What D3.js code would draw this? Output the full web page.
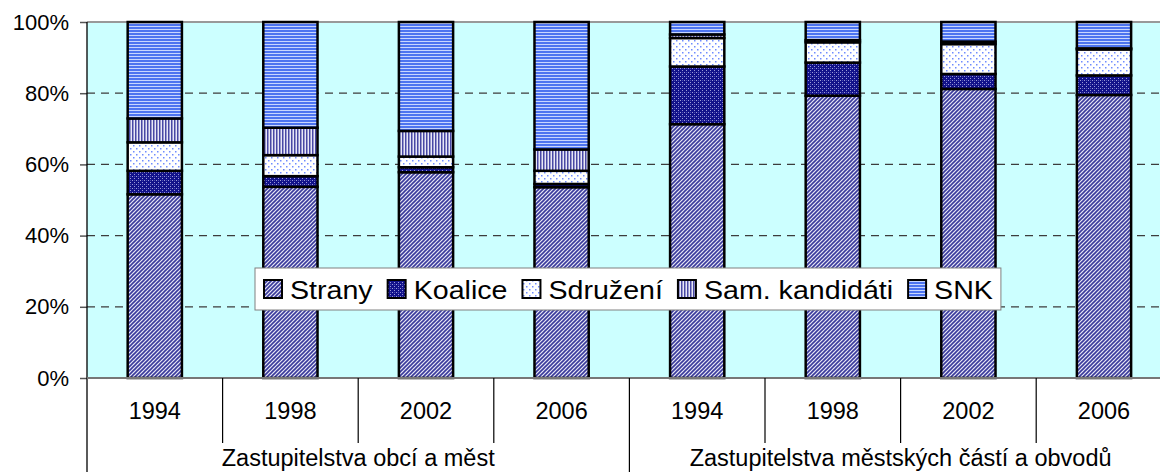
<!DOCTYPE html>
<html>
<head>
<meta charset="utf-8">
<script src="https://cdn.jsdelivr.net/npm/d3@7"></script>
<style>
  body { margin: 0; background: #fff; }
  svg { display: block; font-family: "Liberation Sans", Arial, sans-serif; }
</style>
</head>
<body>
<div id="chart"></div>
<script>
// data (percent of mandates)
const groups = ["Zastupitelstva obcí a měst", "Zastupitelstva městských částí a obvodů"];
const years = ["1994", "1998", "2002", "2006"];
const series = ["Strany", "Koalice", "Sdružení", "Sam. kandidáti", "SNK"];
const strany = [51.6, 53.7, 57.8, 53.6, 71.3, 79.3, 81.2, 79.5];
const koalice = [6.6, 3.0, 1.4, 0.9, 16.2, 9.3, 4.2, 5.5];
const sdruzeni = [8.0, 5.9, 3.0, 3.7, 8.0, 5.7, 8.4, 7.3];
const samKandidati = [6.7, 7.7, 7.2, 6.0, 1.0, 0.6, 0.7, 0.3];
const snk = [27.1, 29.7, 30.6, 35.8, 3.5, 5.1, 5.5, 7.4];
const yTicks = [0, 0.2, 0.4, 0.6, 0.8, 1];

const W = 1160, H = 472;
const plotLeft = 87, plotTop = 22, plotBottom = 378;
const step = 135.6;
const plotRight = plotLeft + step * groups.length * years.length; // plot runs past the picture edge

const cats = [];
groups.forEach((g, gi) => years.forEach(yr => cats.push({ key: gi + "-" + yr, year: yr, group: gi })));

const rows = cats.map((c, i) => ({
  key: c.key,
  "Strany": strany[i], "Koalice": koalice[i], "Sdružení": sdruzeni[i],
  "Sam. kandidáti": samKandidati[i], "SNK": snk[i]
}));

const stacked = d3.stack().keys(series).offset(d3.stackOffsetExpand)(rows);

const x = d3.scaleBand().domain(cats.map(c => c.key)).range([plotLeft, plotRight])
  .paddingInner(0.6).paddingOuter(0.3);
const y = d3.scaleLinear().domain([0, 1]).range([plotBottom, plotTop]);

const svg = d3.select("#chart").append("svg").attr("width", W).attr("height", H);

// fill patterns
const defs = svg.append("defs");
const pat = (id, w, h) => defs.append("pattern").attr("id", id)
  .attr("patternUnits", "userSpaceOnUse").attr("width", w).attr("height", h);

let p = pat("p-strany", 4, 4);
p.append("rect").attr("width", 4).attr("height", 4).attr("fill", "#e6e6f5");
p.append("path").attr("d", "M-1,1 L1,-1 M0,4 L4,0 M3,5 L5,3")
  .attr("stroke", "#3a3a9c").attr("stroke-width", 1.6);

p = pat("p-koalice", 4, 4);
p.append("rect").attr("width", 4).attr("height", 4).attr("fill", "#12128a");
p.append("rect").attr("x", 0).attr("y", 0).attr("width", 1).attr("height", 1).attr("fill", "#9a9ad8");
p.append("rect").attr("x", 2).attr("y", 2).attr("width", 1).attr("height", 1).attr("fill", "#9a9ad8");
p.append("rect").attr("x", 2).attr("y", 0).attr("width", 1).attr("height", 1).attr("fill", "#4a4ab0");

p = pat("p-sdruzeni", 6, 6);
p.append("rect").attr("width", 6).attr("height", 6).attr("fill", "#ffffff");
p.append("rect").attr("x", 1).attr("y", 1).attr("width", 1.5).attr("height", 1.5).attr("fill", "#6f8cff");
p.append("rect").attr("x", 4).attr("y", 4).attr("width", 1.5).attr("height", 1.5).attr("fill", "#6f8cff");

p = pat("p-sam", 3, 3);
p.append("rect").attr("width", 3).attr("height", 3).attr("fill", "#e8e8f6");
p.append("rect").attr("width", 1.5).attr("height", 3).attr("fill", "#4848a4");

p = pat("p-snk", 3, 3);
p.append("rect").attr("width", 3).attr("height", 3).attr("fill", "#4d74f0");
p.append("rect").attr("y", 2).attr("width", 3).attr("height", 1).attr("fill", "#c8d6ff");

const fills = {
  "Strany": "url(#p-strany)", "Koalice": "url(#p-koalice)", "Sdružení": "url(#p-sdruzeni)",
  "Sam. kandidáti": "url(#p-sam)", "SNK": "url(#p-snk)"
};

// plot background
svg.append("rect").attr("x", plotLeft).attr("y", plotTop)
  .attr("width", plotRight - plotLeft).attr("height", plotBottom - plotTop).attr("fill", "#ccffff");

// gridlines
svg.append("g").selectAll("line").data(yTicks.filter(t => t > 0 && t < 1)).join("line")
  .attr("x1", plotLeft).attr("x2", plotRight)
  .attr("y1", d => y(d)).attr("y2", d => y(d))
  .attr("stroke", "#3c3c3c").attr("stroke-width", 1.2).attr("stroke-dasharray", "8,6");

svg.append("line").attr("x1", plotLeft).attr("x2", plotRight).attr("y1", y(1)).attr("y2", y(1))
  .attr("stroke", "#999").attr("stroke-width", 2);

// bars
svg.append("g").selectAll("g").data(stacked).join("g")
  .attr("fill", d => fills[d.key])
  .selectAll("rect").data(d => d).join("rect")
  .attr("x", (d, i) => x(cats[i].key))
  .attr("width", x.bandwidth())
  .attr("y", d => y(d[1]))
  .attr("height", d => y(d[0]) - y(d[1]))
  .attr("stroke", "#000").attr("stroke-width", 2.5);

// y axis
const yAxis = svg.append("g").attr("transform", `translate(${plotLeft},0)`)
  .call(d3.axisLeft(y).tickValues(yTicks).tickFormat(d3.format(".0%")).tickSize(7).tickPadding(11));
yAxis.select(".domain").remove();
yAxis.selectAll(".tick line").attr("stroke", "#555").attr("stroke-width", 1.5);
yAxis.selectAll(".tick text").attr("font-size", 22).attr("fill", "#000")
  .attr("font-family", "Liberation Sans, Arial, sans-serif");

svg.append("line").attr("x1", plotLeft).attr("x2", plotLeft).attr("y1", plotTop).attr("y2", H)
  .attr("stroke", "#000").attr("stroke-width", 1.3);

// category axis (two levels)
svg.append("line").attr("x1", plotLeft).attr("x2", plotRight).attr("y1", plotBottom).attr("y2", plotBottom)
  .attr("stroke", "#777").attr("stroke-width", 2);

svg.append("g").selectAll("line").data(cats.slice(1)).join("line")
  .attr("x1", d => x(d.key) - x.step() * x.paddingInner() / 2)
  .attr("x2", d => x(d.key) - x.step() * x.paddingInner() / 2)
  .attr("y1", plotBottom).attr("y2", d => years.indexOf(d.year) === 0 ? H : 443)
  .attr("stroke", "#000").attr("stroke-width", 1.2);

svg.append("g").selectAll("text").data(cats).join("text")
  .attr("x", d => x(d.key) + x.bandwidth() / 2)
  .attr("y", 419)
  .attr("text-anchor", "middle").attr("font-size", 23.5)
  .text(d => d.year);

svg.append("g").selectAll("text").data(groups).join("text")
  .attr("x", (d, gi) => {
    const ks = cats.filter(c => c.group === gi);
    return (x(ks[0].key) + x(ks[ks.length - 1].key) + x.bandwidth()) / 2;
  })
  .attr("y", 466)
  .attr("text-anchor", "middle").attr("font-size", 23.5)
  .text(d => d);

// legend (text is slightly wider than plain Arial in the reference)
const legend = svg.append("g");
const box = legend.append("rect").attr("x", 255).attr("y", 268).attr("height", 42)
  .attr("fill", "#fff").attr("stroke", "#808080").attr("stroke-width", 1);
let lx = 264;
series.forEach(s => {
  legend.append("rect").attr("x", lx).attr("y", 280).attr("width", 18).attr("height", 18)
    .attr("fill", fills[s]).attr("stroke", "#000").attr("stroke-width", 2);
  const t = legend.append("text").attr("transform", `translate(${lx + 26},299) scale(1.1,1)`)
    .attr("font-size", 26).text(s);
  lx += 26 + t.node().getComputedTextLength() * 1.1 + 15;
});
box.attr("width", lx - 15 + 8 - 255);
</script>
</body>
</html>
